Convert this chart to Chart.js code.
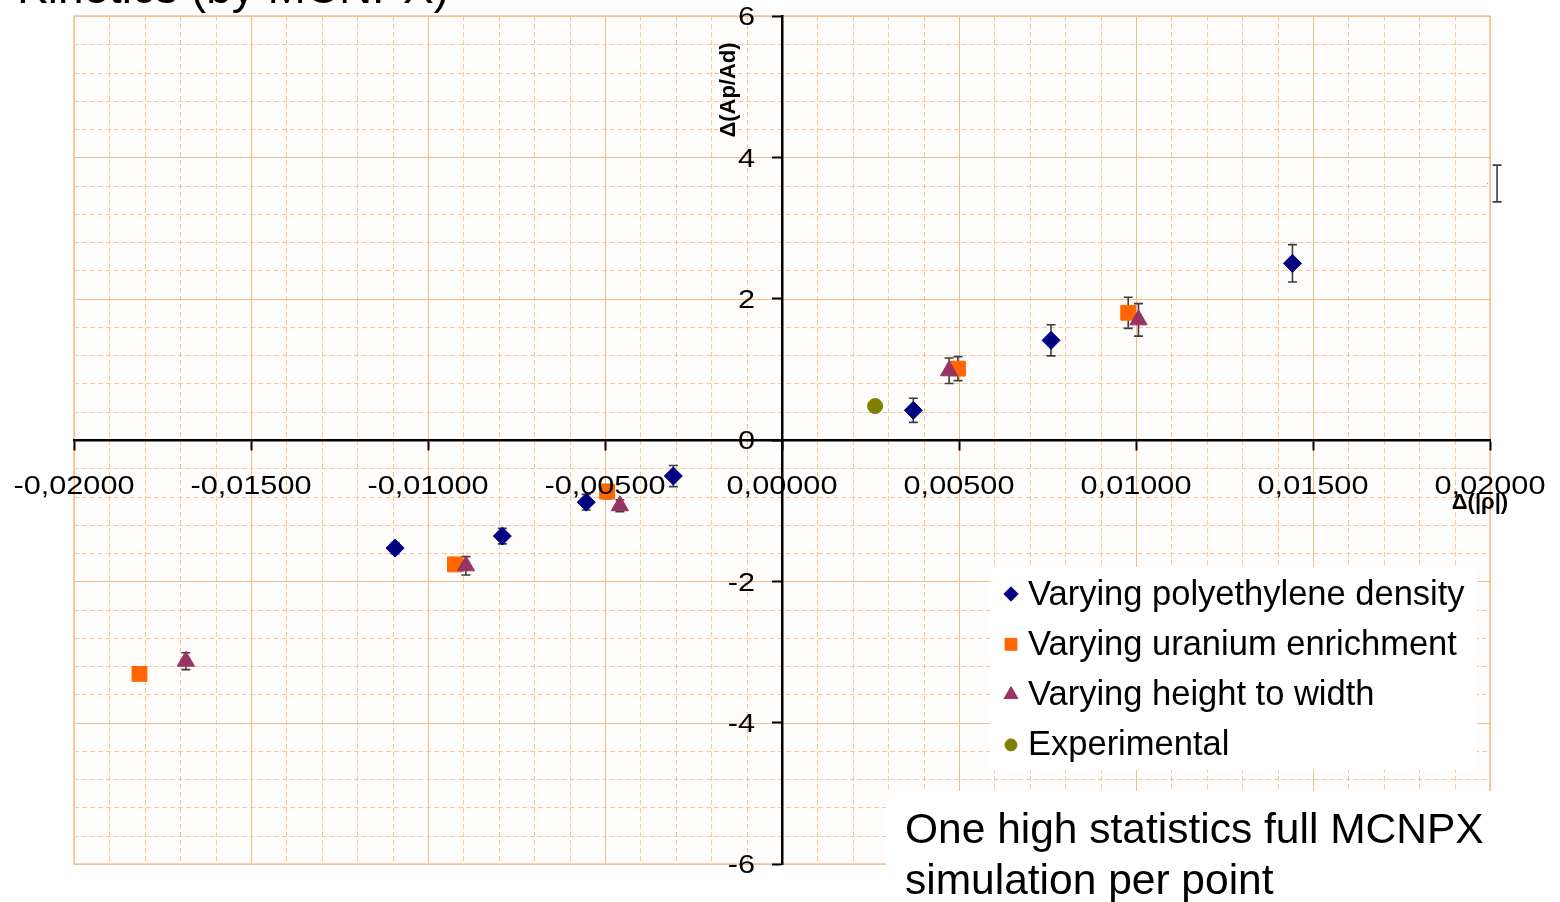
<!DOCTYPE html>
<html>
<head>
<meta charset="utf-8">
<script src="https://cdn.jsdelivr.net/npm/chart.js@4.4.0/dist/chart.umd.min.js"></script>
<style>
  html, body { margin: 0; padding: 0; background: #ffffff; overflow: hidden; }
  #wrap { width: 1560px; height: 902px; position: relative; }
  canvas { display: block; }
</style>
</head>
<body>
<div id="wrap"><canvas id="chart" width="1560" height="902"></canvas></div>
<script>
// ---- data ----
const seriesLabels = [
  'Varying polyethylene density',
  'Varying uranium enrichment',
  'Varying height to width',
  'Experimental'
];

const polyX   = [-0.01093, -0.00790, -0.00553, -0.00307, 0.00371, 0.00760, 0.01442, 0.02020];
const polyY   = [-1.53, -1.36, -0.88, -0.51, 0.42, 1.41, 2.50, 3.63];
const polyErr = [0.08, 0.11, 0.11, 0.15, 0.17, 0.22, 0.265, 0.26];

const uranX   = [-0.01815, -0.00924, -0.00494, 0.00497, 0.00978];
const uranY   = [-3.31, -1.76, -0.73, 1.01, 1.80];
const uranErr = [0.05, 0.08, 0.10, 0.17, 0.22];

const heightX   = [-0.01684, -0.00893, -0.00458, 0.00472, 0.01007];
const heightY   = [-3.13, -1.78, -0.93, 0.98, 1.70];
const heightErr = [0.12, 0.13, 0.085, 0.18, 0.23];

const expX = [0.00263];
const expY = [0.48];

const xTicks = [-0.02, -0.015, -0.01, -0.005, 0, 0.005, 0.01, 0.015, 0.02];
const xTickLabels = ['-0,02000', '-0,01500', '-0,01000', '-0,00500', '0,00000', '0,00500', '0,01000', '0,01500', '0,02000'];
const yTicks = [-6, -4, -2, 0, 2, 4, 6];
const yTickLabels = ['-6', '-4', '-2', '0', '2', '4', '6'];

const xTitle = 'Δ(|ρ|)';
const yTitle = 'Δ(Ap/Ad)';
const chartTitle = 'Kinetics (by MCNPX)';
const noteLines = ['One high statistics full MCNPX', 'simulation per point'];

// ---- helpers ----
const pts = (xs, ys) => xs.map((v, i) => ({ x: v, y: ys[i] }));
const FONT = '"Liberation Sans", Arial, sans-serif';

// light grid paper behind the plot: solid major lines, dashed minor lines
const gridPaper = {
  id: 'gridPaper',
  beforeDraw(chart) {
    const { ctx, chartArea: a, scales: { x, y } } = chart;
    ctx.save();
    ctx.fillStyle = '#fffdfb';
    ctx.fillRect(a.left, a.top, a.right - a.left, a.bottom - a.top);
    ctx.lineWidth = 1;
    // vertical lines, minor step 0.001, major every 0.005
    for (let i = -20; i <= 20; i++) {
      const px = Math.round(x.getPixelForValue(i * 0.001)) + 0.5;
      const major = i % 5 === 0;
      ctx.strokeStyle = major ? '#f4bb86' : '#f6c79c';
      ctx.setLineDash(major ? [] : [5, 3]);
      ctx.beginPath(); ctx.moveTo(px, a.top); ctx.lineTo(px, a.bottom); ctx.stroke();
    }
    // horizontal lines, minor step 0.4, major every 2
    for (let i = -15; i <= 15; i++) {
      const py = Math.round(y.getPixelForValue(i * 0.4)) + 0.5;
      const major = i % 5 === 0;
      ctx.strokeStyle = major ? '#f4bb86' : '#f6c79c';
      ctx.setLineDash(major ? [] : [5, 3]);
      ctx.beginPath(); ctx.moveTo(a.left, py); ctx.lineTo(a.right, py); ctx.stroke();
    }
    ctx.setLineDash([]);
    ctx.strokeStyle = '#f4c195';
    ctx.lineWidth = 1.5;
    ctx.strokeRect(a.left, a.top, a.right - a.left, a.bottom - a.top);
    ctx.restore();
  }
};

// vertical error bars with caps, drawn under the markers
const errorBars = {
  id: 'errorBars',
  beforeDatasetsDraw(chart) {
    const { ctx, scales: { x, y } } = chart;
    ctx.save();
    ctx.strokeStyle = '#3c3c3c';
    ctx.lineWidth = 1.6;
    chart.data.datasets.forEach(ds => {
      if (!ds.errors) return;
      ds.data.forEach((p, j) => {
        const e = ds.errors[j];
        if (!e) return;
        const px = x.getPixelForValue(p.x);
        const top = y.getPixelForValue(p.y + e);
        const bot = y.getPixelForValue(p.y - e);
        ctx.beginPath();
        ctx.moveTo(px, top); ctx.lineTo(px, bot);
        ctx.moveTo(px - 4.5, top); ctx.lineTo(px + 4.5, top);
        ctx.moveTo(px - 4.5, bot); ctx.lineTo(px + 4.5, bot);
        ctx.stroke();
      });
    });
    ctx.restore();
  }
};

// tick labels, axis titles, legend box, note box and heading
const annotations = {
  id: 'annotations',
  afterDraw(chart) {
    const { ctx, chartArea: a, scales: { x, y } } = chart;
    ctx.save();
    ctx.fillStyle = '#000';

    // x tick labels (slightly wide lettering)
    ctx.font = '26px ' + FONT;
    ctx.textAlign = 'center';
    ctx.textBaseline = 'middle';
    const xAxisY = y.getPixelForValue(0);
    xTicks.forEach((v, i) => {
      ctx.save();
      ctx.translate(x.getPixelForValue(v), xAxisY + 47);
      ctx.scale(1.18, 1);
      ctx.fillText(xTickLabels[i], 0, 0);
      ctx.restore();
    });

    // y tick labels
    ctx.textAlign = 'right';
    const yAxisX = x.getPixelForValue(0);
    yTicks.forEach((v, i) => {
      ctx.save();
      ctx.translate(yAxisX - 27, y.getPixelForValue(v) + 2);
      ctx.scale(1.18, 1);
      ctx.fillText(yTickLabels[i], 0, 0);
      ctx.restore();
    });

    // axis titles
    ctx.font = 'bold 22px ' + FONT;
    ctx.textAlign = 'center';
    ctx.save();
    ctx.translate(yAxisX - 53, a.top + 74);
    ctx.rotate(-Math.PI / 2);
    ctx.fillText(yTitle, 0, 0);
    ctx.restore();
    ctx.fillText(xTitle, a.right - 10, xAxisY + 63);

    // legend
    const lx = 990, ly = 567, lw = 487, lh = 203;
    ctx.fillStyle = '#ffffff';
    ctx.fillRect(lx, ly, lw, lh);
    ctx.font = '34.5px ' + FONT;
    ctx.textAlign = 'left';
    ctx.textBaseline = 'middle';
    chart.data.datasets.forEach((ds, i) => {
      const cy = ly + 27 + i * 50.3;
      ctx.fillStyle = ds.backgroundColor;
      ctx.strokeStyle = ds.borderColor;
      Chart.helpers.drawPoint(ctx, {
        pointStyle: ds.pointStyle,
        radius: ds.pointRadius * 0.8,
        rotation: 0,
        borderWidth: 1
      }, lx + 21, cy);
      ctx.fillStyle = '#000';
      ctx.fillText(seriesLabels[i], lx + 38, cy + 1);
    });

    // note box
    ctx.fillStyle = '#ffffff';
    ctx.fillRect(886, 791, 1560 - 886, 902 - 791);
    ctx.fillStyle = '#000';
    ctx.font = '42.5px ' + FONT;
    ctx.textBaseline = 'alphabetic';
    ctx.fillText(noteLines[0], 905, 843);
    ctx.fillText(noteLines[1], 905, 894);

    // heading, mostly above the top edge
    ctx.font = '46px ' + FONT;
    ctx.fillText(chartTitle, 17, 3);
    ctx.restore();
  }
};

const commonPoint = { showLine: false, borderWidth: 1 };

new Chart(document.getElementById('chart'), {
  type: 'scatter',
  data: {
    datasets: [
      Object.assign({
        label: seriesLabels[0], data: pts(polyX, polyY), errors: polyErr,
        pointStyle: 'rectRot', pointRadius: 9,
        backgroundColor: '#000080', borderColor: '#000080', order: 4,
        clip: { left: 0, top: 0, right: -2, bottom: 0 }
      }, commonPoint),
      Object.assign({
        label: seriesLabels[1], data: pts(uranX, uranY), errors: uranErr,
        pointStyle: 'rect', pointRadius: 10.5,
        backgroundColor: '#ff6600', borderColor: '#ff6600', order: 3, clip: 0
      }, commonPoint),
      Object.assign({
        label: seriesLabels[2], data: pts(heightX, heightY), errors: heightErr,
        pointStyle: 'triangle', pointRadius: 10,
        backgroundColor: '#993366', borderColor: '#993366', order: 2, clip: 0
      }, commonPoint),
      Object.assign({
        label: seriesLabels[3], data: pts(expX, expY),
        pointStyle: 'circle', pointRadius: 7.5,
        backgroundColor: '#808000', borderColor: '#808000', order: 1, clip: 0
      }, commonPoint)
    ]
  },
  options: {
    responsive: false,
    animation: false,
    devicePixelRatio: 1,
    layout: { padding: { left: 74, right: 70, top: 16, bottom: 38 } },
    plugins: { legend: { display: false }, tooltip: { enabled: false }, title: { display: false } },
    scales: {
      x: {
        type: 'linear', min: -0.02, max: 0.02, position: { y: 0 },
        afterBuildTicks: s => { s.ticks = xTicks.map(v => ({ value: v })); },
        ticks: { display: false },
        grid: { drawOnChartArea: false, drawTicks: true, tickLength: 9, tickWidth: 2, tickColor: '#000' },
        border: { display: true, color: '#000', width: 2.5 }
      },
      y: {
        type: 'linear', min: -6, max: 6, position: { x: 0 },
        afterBuildTicks: s => { s.ticks = yTicks.map(v => ({ value: v })); },
        ticks: { display: false },
        grid: { drawOnChartArea: false, drawTicks: true, tickLength: 9, tickWidth: 2, tickColor: '#000' },
        border: { display: true, color: '#000', width: 2.5 }
      }
    }
  },
  plugins: [gridPaper, errorBars, annotations]
});
</script>
</body>
</html>
